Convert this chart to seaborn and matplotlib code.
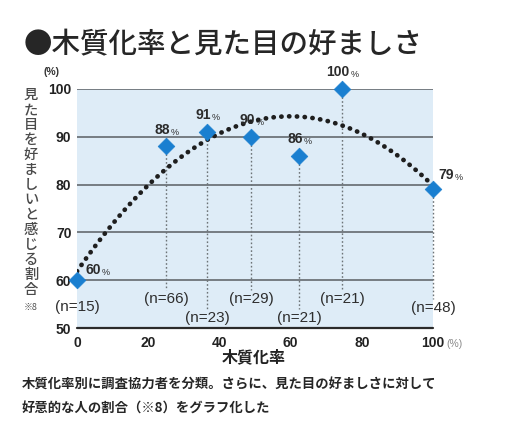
import matplotlib
matplotlib.use("Agg")
import matplotlib.pyplot as plt
import seaborn as sns
import pandas as pd

# Survey results: lignification rate (%) vs. share who find the look favourable (%)
wood_rate = [0, 25, 36.5, 49, 62.5, 74.5, 100]
favorable = [60, 88, 91, 90, 86, 100, 79]
sample_n = [15, 66, 23, 29, 21, 21, 48]

x_ticks = [0, 20, 40, 60, 80, 100]
y_ticks = [50, 60, 70, 80, 90, 100]

title = "●木質化率と見た目の好ましさ"
x_label = "木質化率"
y_label = "見た目を好ましいと感じる割合"
caption = ["木質化率別に調査協力者を分類。さらに、見た目の好ましさに対して",
           "好意的な人の割合（※8）をグラフ化した"]

df = pd.DataFrame({"rate": wood_rate, "fav": favorable, "n": sample_n})

sns.set_theme(style="white")
plt.rcParams["font.family"] = ["Noto Sans CJK JP", "DejaVu Sans"]
NUM = ["Liberation Sans", "DejaVu Sans"]

W, H = 510, 428
fig = plt.figure(figsize=(W / 100, H / 100), dpi=100)
fig.patch.set_facecolor("white")
ax = fig.add_axes([77 / W, 1 - 328 / H, (433 - 77) / W, (328 - 89) / H])
ax.set_facecolor("#deecf7")
ax.set_xlim(0, 100)
ax.set_ylim(50, 100)

for s in ax.spines.values():
    s.set_visible(False)

# horizontal rules
for yv in y_ticks[1:]:
    ax.axhline(yv, color="#5a5f63", lw=1.1, zorder=1)
ax.axhline(50, color="#2a2a2a", lw=1.6, zorder=1, clip_on=False)

# n labels sit on two staggered rows
n_row_y = [54.4, 56, 52, 56, 52, 56, 54.2]

# dotted drop lines from each point to its sample-size label
for xv, yv, ly in zip(df["rate"], df["fav"], n_row_y):
    if xv == 0:
        continue
    ax.plot([xv, xv], [yv, ly + 1.9], color="#6d7377", lw=1.0,
            ls=(0, (1.2, 1.6)), zorder=2, clip_on=False)

# quadratic trend line
sns.regplot(data=df, x="rate", y="fav", order=2, ci=None, scatter=False,
            truncate=True, ax=ax,
            line_kws=dict(color="#1e1e1e", lw=3.4, ls=(0, (0.05, 1.6)),
                          dash_capstyle="round", zorder=3))

# data markers
sns.scatterplot(data=df, x="rate", y="fav", marker="D", s=72,
                color="#1a7fd0", edgecolor="#1a7fd0", linewidth=0.5,
                zorder=5, ax=ax, clip_on=False)

# value labels (number + small %)
lbl_offsets = [(6, 2), (0, 7), (0, 7), (0, 7), (0, 7), (0, 7), (4, 5)]
lbl_align = ["left", "center", "center", "center", "center", "center", "left"]
for xv, yv, (dx, dy), ha in zip(df["rate"], df["fav"], lbl_offsets, lbl_align):
    t = ax.annotate(f"{yv:g}", (xv, yv), xytext=(dx - (3 if ha == "center" else 0), dy),
                    textcoords="offset points", ha=ha, va="bottom",
                    fontsize=10, fontweight="bold", color="#2b2b2b",
                    family=NUM, zorder=6, annotation_clip=False)
    ax.annotate("%", xy=(1, 0), xycoords=t, xytext=(0.5, 0),
                textcoords="offset points", ha="left", va="bottom",
                fontsize=6.5, color="#2b2b2b", family=NUM, zorder=6)

# sample sizes
for xv, nv, ly in zip(df["rate"], df["n"], n_row_y):
    ax.text(xv, ly, f"(n={nv})", ha="center", va="center", fontsize=11,
            color="#2e2e2e", family=NUM, zorder=6, clip_on=False)

# ticks
ax.set_xticks(x_ticks)
ax.set_xticklabels([str(v) for v in x_ticks], family=NUM, fontweight="bold",
                   fontsize=10, color="#222222")
ax.set_yticks(y_ticks)
ax.set_yticklabels([str(v) for v in y_ticks], family=NUM, fontweight="bold",
                   fontsize=10, color="#222222")
ax.tick_params(axis="both", length=0)
ax.tick_params(axis="x", pad=6)
ax.tick_params(axis="y", pad=4)
ax.set_xlabel("")
ax.set_ylabel("")

# unit marks
ax.annotate("(%)", xy=(100, 50), xycoords="data", xytext=(9.5, -8),
            textcoords="offset points", ha="left", va="top", fontsize=7.5,
            color="#8a8a8a", family=NUM, annotation_clip=False)
fig.text(52 / W, 1 - 72 / H, "(%)", ha="center", va="center",
         fontsize=7.5, fontweight="bold", color="#333333", family=NUM)

# axis titles
fig.text(254 / W, 1 - 357 / H, x_label, ha="center", va="center",
         fontsize=11.5, fontweight="bold", color="#222222")
# vertical (tategaki) y title: one glyph per row
step = 15.0
for i, ch in enumerate(y_label):
    fig.text(31 / W, 1 - (95 + i * step) / H, ch, ha="center", va="center",
             fontsize=10.3, color="#4a4a4a", fontweight="medium")
fig.text(31 / W, 1 - (95 + len(y_label) * step + 2) / H, "※8",
         ha="center", va="center", fontsize=6.5, color="#555555")

# headline and caption
fig.text(24 / W, 1 - 45 / H, title, ha="left", va="center",
         fontsize=20.5, fontweight="medium", color="#262626")
fig.text(22 / W, 1 - 385 / H, caption[0], ha="left", va="center",
         fontsize=9.6, fontweight="bold", color="#262626")
fig.text(22 / W, 1 - 409 / H, caption[1], ha="left", va="center",
         fontsize=9.6, fontweight="bold", color="#262626")

fig.savefig("out.png", dpi=100, facecolor="white")
